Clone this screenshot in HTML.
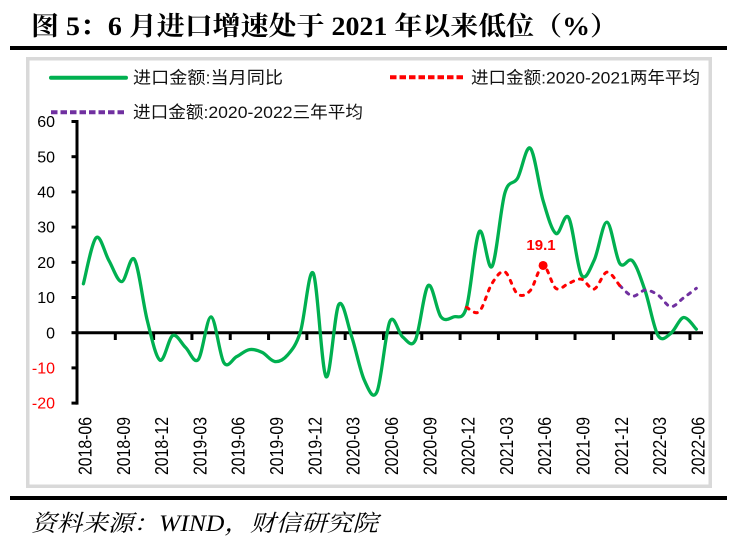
<!DOCTYPE html>
<html>
<head>
<meta charset="utf-8">
<style>
html,body{margin:0;padding:0;background:#fff;}
svg{display:block;}
.cj{font-family:"Liberation Sans","Noto Sans CJK SC",sans-serif;}
</style>
</head>
<body>
<svg id="s" width="745" height="548" viewBox="0 0 745 548" xmlns="http://www.w3.org/2000/svg">
  <rect x="0" y="0" width="745" height="548" fill="#fff"/>
  <!-- title -->
  <text x="31" y="35" font-family="Liberation Serif, Noto Serif CJK SC, serif" font-weight="bold" font-size="26" fill="#000" textLength="587" lengthAdjust="spacingAndGlyphs">图 5：6 月进口增速处于 2021 年以来低位（%）</text>
  <rect x="10" y="46" width="717" height="4" fill="#000"/>
  <!-- chart box -->
  <rect x="27.75" y="58.75" width="682.5" height="427.5" fill="#fff" stroke="#D9D9D9" stroke-width="3.5"/>
  <!-- legend -->
  <line x1="51" y1="77.7" x2="126" y2="77.7" stroke="#00B050" stroke-width="4" stroke-linecap="round"/>
  <text class="cj" x="133" y="83.5" font-size="17" fill="#111" textLength="150" lengthAdjust="spacingAndGlyphs">进口金额:当月同比</text>
  <line x1="390" y1="77.3" x2="463" y2="77.3" stroke="#FF0000" stroke-width="4" stroke-dasharray="6.5 3" />
  <text class="cj" x="471" y="83.3" font-size="17" fill="#111" textLength="229" lengthAdjust="spacingAndGlyphs">进口金额:2020-2021两年平均</text>
  <line x1="51" y1="112.3" x2="126" y2="112.3" stroke="#7030A0" stroke-width="4" stroke-dasharray="6.5 3"/>
  <text class="cj" x="133" y="117.8" font-size="17" fill="#111" textLength="230" lengthAdjust="spacingAndGlyphs">进口金额:2020-2022三年平均</text>
  <g id="axes"></g>
  <g id="series"></g>
  <!-- bottom -->
  <rect x="10" y="496" width="717" height="4" fill="#000"/>
  <text x="31" y="531" font-family="Liberation Serif, Noto Serif CJK SC, serif" font-style="italic" font-size="23" fill="#000" textLength="347" lengthAdjust="spacingAndGlyphs">资料来源：WIND，财信研究院</text>
</svg>
<script>
(function(){
  var NS="http://www.w3.org/2000/svg";
  var X=function(i){return 77+(i+0.5)*12.77;};
  var Y=function(v){return 332.7-v*3.52;};
  var axes=document.getElementById('axes');
  var ser=document.getElementById('series');
  function el(tag,attrs,parent,txt){
    var e=document.createElementNS(NS,tag);
    for(var k in attrs)e.setAttribute(k,attrs[k]);
    if(txt!==undefined)e.textContent=txt;
    parent.appendChild(e);return e;
  }
  // y axis
  el('line',{x1:77,y1:Y(60)-1.5,x2:77,y2:Y(-20)+1.5,stroke:'#000','stroke-width':3},axes);
  for(var v=60;v>=-20;v-=10){
    el('line',{x1:71.5,y1:Y(v),x2:77,y2:Y(v),stroke:'#000','stroke-width':3},axes);
    el('text',{x:55,y:Y(v)+5.6,'text-anchor':'end','font-family':'Liberation Sans, sans-serif','font-size':16,fill:v<0?'#FF0000':'#000'},axes,String(v));
  }
  // x axis
  el('line',{x1:77,y1:Y(0),x2:703,y2:Y(0),stroke:'#000','stroke-width':3},axes);
  for(var k=1;k<=16;k++){
    var xx=77+3*k*12.77;
    el('line',{x1:xx,y1:Y(0),x2:xx,y2:340,stroke:'#000','stroke-width':3},axes);
  }
  var labels=['2018-06','2018-09','2018-12','2019-03','2019-06','2019-09','2019-12','2020-03','2020-06','2020-09','2020-12','2021-03','2021-06','2021-09','2021-12','2022-03','2022-06'];
  for(var j=0;j<labels.length;j++){
    var bx=X(3*j)+1.6+6.5;
    el('text',{transform:'translate('+bx+',475) rotate(-90)',x:0,y:0,'font-family':'Liberation Sans, sans-serif','font-size':18,fill:'#000',textLength:58,lengthAdjust:'spacingAndGlyphs'},axes,labels[j]);
  }
  function pathD(start,vals){
    var p=vals.map(function(v,idx){return [X(start+idx),Y(v)];});
    var d='M'+p[0][0].toFixed(2)+','+p[0][1].toFixed(2);
    for(var i=0;i<p.length-1;i++){
      var p0=p[i-1]||p[i],p1=p[i],p2=p[i+1],p3=p[i+2]||p[i+1];
      var c1x=p1[0]+(p2[0]-p0[0])/6,c1y=p1[1]+(p2[1]-p0[1])/6;
      var c2x=p2[0]-(p3[0]-p1[0])/6,c2y=p2[1]-(p3[1]-p1[1])/6;
      d+=' C'+c1x.toFixed(2)+','+c1y.toFixed(2)+' '+c2x.toFixed(2)+','+c2y.toFixed(2)+' '+p2[0].toFixed(2)+','+p2[1].toFixed(2);
    }
    return d;
  }
  var green=[13.9,27.0,20.5,14.5,20.8,3.5,-7.8,-0.8,-4.2,-7.6,4.5,-8.5,-6.8,-4.8,-5.6,-8.2,-6.3,0.3,16.9,-12.5,8.0,-1.0,-13.5,-16.7,3.2,-1.2,-2.1,13.4,4.5,4.5,7.2,28.7,18.8,39.6,43.9,52.4,37.5,28.2,32.7,16.4,20.6,31.4,19.7,20.4,11.8,-0.8,-0.2,4.3,1.0];
  var red=[7.2,6.0,14.0,17.3,11.0,12.0,19.1,12.6,14.0,15.2,12.4,17.2,13.4];
  var purple=[13.4,10.4,12.1,10.7,7.4,9.9,12.6];
  el('path',{d:pathD(0,green),fill:'none',stroke:'#00B050','stroke-width':3.3,'stroke-linejoin':'round','stroke-linecap':'round'},ser);
  el('path',{d:pathD(42,purple),fill:'none',stroke:'#7030A0','stroke-width':3,'stroke-dasharray':'3 6.3','stroke-linecap':'round'},ser);
  el('path',{d:pathD(30,red),fill:'none',stroke:'#FF0000','stroke-width':3,'stroke-dasharray':'3 6.3','stroke-linecap':'round'},ser);
  el('circle',{cx:X(36),cy:Y(19.1),r:4.5,fill:'#FF0000'},ser);
  el('text',{x:541,y:250,'text-anchor':'middle','font-family':'Liberation Sans, sans-serif','font-weight':'bold','font-size':15,fill:'#FF0000'},ser,'19.1');
})();
</script>
</body>
</html>
